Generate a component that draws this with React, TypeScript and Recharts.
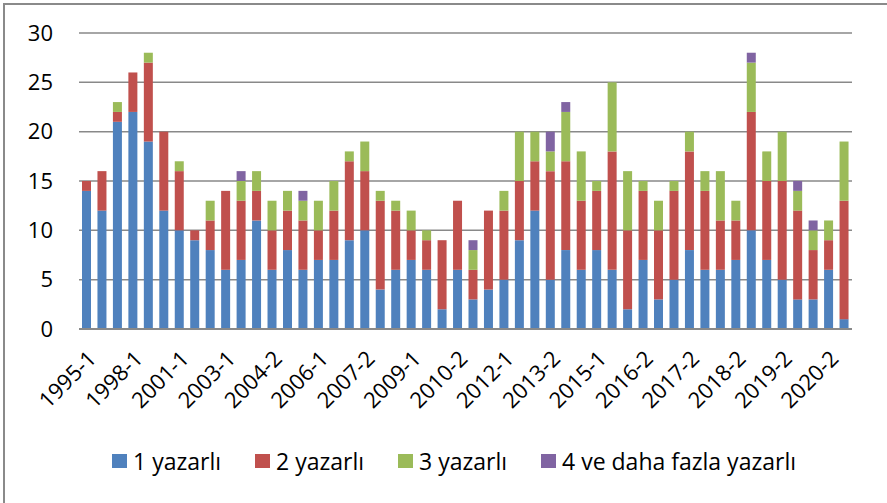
import React from 'react';
import { BarChart, Bar, XAxis, YAxis, CartesianGrid, Legend } from 'recharts';

const categories = [
  '1995-1', '1996-1', '1997-1', '1998-1', '1999-1', '2000-1', '2001-1', '2001-2', '2002-1', '2003-1',
  '2003-2', '2004-1', '2004-2', '2005-1', '2005-2', '2006-1', '2006-2', '2007-1', '2007-2', '2008-1',
  '2008-2', '2009-1', '2009-2', '2010-1', '2010-2', '2011-1', '2011-2', '2012-1', '2012-2', '2013-1',
  '2013-2', '2014-1', '2014-2', '2015-1', '2015-2', '2016-1', '2016-2', '2016-3', '2017-1', '2017-2',
  '2017-3', '2018-1', '2018-2', '2018-3', '2019-1', '2019-2', '2019-3', '2020-1', '2020-2', '2020-3',
];

const oneAuthor = [
  14, 12, 21, 22, 19, 12, 10, 9, 8, 6,
  7, 11, 6, 8, 6, 7, 7, 9, 10, 4,
  6, 7, 6, 2, 6, 3, 4, 5, 9, 12,
  5, 8, 6, 8, 6, 2, 7, 3, 5, 8,
  6, 6, 7, 10, 7, 5, 3, 3, 6, 1,
];
const twoAuthors = [
  1, 4, 1, 4, 8, 8, 6, 1, 3, 8,
  6, 3, 4, 4, 5, 3, 5, 8, 6, 9,
  6, 3, 3, 7, 7, 3, 8, 7, 6, 5,
  11, 9, 7, 6, 12, 8, 7, 7, 9, 10,
  8, 5, 4, 12, 8, 10, 9, 5, 3, 12,
];
const threeAuthors = [
  0, 0, 1, 0, 1, 0, 1, 0, 2, 0,
  2, 2, 3, 2, 2, 3, 3, 1, 3, 1,
  1, 2, 1, 0, 0, 2, 0, 2, 5, 3,
  2, 5, 5, 1, 7, 6, 1, 3, 1, 2,
  2, 5, 2, 5, 3, 5, 2, 2, 2, 6,
];
const fourPlus = [
  0, 0, 0, 0, 0, 0, 0, 0, 0, 0,
  1, 0, 0, 0, 1, 0, 0, 0, 0, 0,
  0, 0, 0, 0, 0, 1, 0, 0, 0, 0,
  2, 1, 0, 0, 0, 0, 0, 0, 0, 0,
  0, 0, 0, 1, 0, 0, 1, 1, 0, 0,
];
const yTicks = [0, 5, 10, 15, 20, 25, 30];

const series = [
  { key: 'one', name: '1 yazarlı', color: '#4F81BD' },
  { key: 'two', name: '2 yazarlı', color: '#C0504D' },
  { key: 'three', name: '3 yazarlı', color: '#9BBB59' },
  { key: 'four', name: '4 ve daha fazla yazarlı', color: '#8064A2' },
];

const data = categories.map((period, i) => ({
  period,
  one: oneAuthor[i],
  two: twoAuthors[i],
  three: threeAuthors[i],
  four: fourPlus[i],
}));

const FONT = '"Open Sans", sans-serif';

function LegendContent({ payload }: any) {
  return (
    <div style={{ display: 'flex', justifyContent: 'flex-start', paddingLeft: 112, fontFamily: FONT, fontSize: 23 }}>
      {(payload || []).map((p: any) => (
        <div key={p.value} style={{ display: 'flex', alignItems: 'center', marginRight: 34 }}>
          <span style={{ width: 15, height: 14, background: p.color, marginRight: 6, display: 'inline-block' }} />
          <span style={{ color: '#000' }}>{p.value}</span>
        </div>
      ))}
    </div>
  );
}

export default function App() {
  return (
    <div style={{ position: 'absolute', left: 0, top: 0, width: 887, height: 503, background: '#fff', overflow: 'hidden' }}>
      <div
        style={{
          position: 'absolute',
          left: 3,
          top: 3,
          width: 900,
          height: 520,
          borderLeft: '2px solid #8a8a8a',
          borderTop: '2px solid #8a8a8a',
        }}
      />
      <BarChart
        width={887}
        height={503}
        data={data}
        margin={{ top: 33, right: 35, left: 0, bottom: 26 }}
      >
        <CartesianGrid vertical={false} stroke="#898989" strokeWidth={1.5} />
        <XAxis
          dataKey="period"
          interval={2}
          tickLine={false}
          axisLine={{ stroke: '#898989', strokeWidth: 2 }}
          height={116}
          tickMargin={14}
          tick={{ angle: -45, textAnchor: 'end', fontSize: 22, fontFamily: FONT, fill: '#000' }}
        />
        <YAxis
          domain={[0, 30]}
          ticks={yTicks}
          width={79}
          tickLine={false}
          axisLine={false}
          tickSize={0}
          tickMargin={26}
          tick={{ fill: '#000', fontSize: 22, fontFamily: FONT }}
        />
        <Legend verticalAlign="bottom" content={<LegendContent />} />
        {series.map((s) => (
          <Bar
            key={s.key}
            dataKey={s.key}
            name={s.name}
            stackId="a"
            fill={s.color}
            barSize={9}
            isAnimationActive={false}
          />
        ))}
      </BarChart>
    </div>
  );
}
